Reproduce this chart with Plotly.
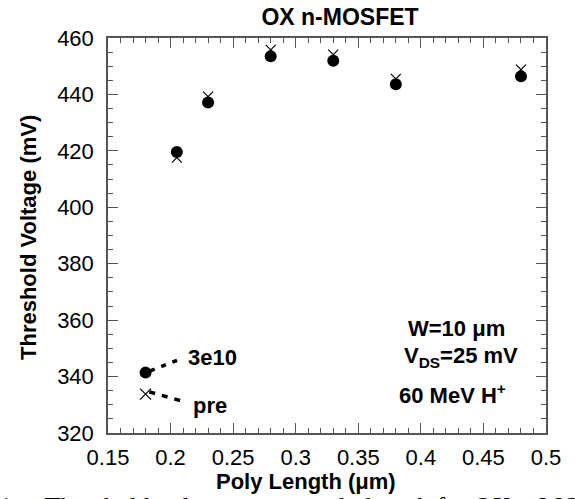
import plotly.graph_objects as go

# ---- data ----
poly_length = [0.205, 0.23, 0.28, 0.33, 0.38, 0.48]
vt_3e10 = [419.6, 437.1, 453.5, 451.9, 443.6, 446.4]
vt_pre = [417.6, 439.2, 455.8, 454.1, 445.5, 448.8]

legend_x = [0.18]
legend_3e10_y = [341.4]
legend_pre_y = [333.8]

x_tick_vals = [0.15, 0.2, 0.25, 0.3, 0.35, 0.4, 0.45, 0.5]
x_tick_text = ["0.15", "0.2", "0.25", "0.3", "0.35", "0.4", "0.45", "0.5"]
y_tick_vals = [320, 340, 360, 380, 400, 420, 440, 460]
y_tick_text = ["320", "340", "360", "380", "400", "420", "440", "460"]

FONT = "Liberation Sans, Arial, Helvetica, sans-serif"
W, H = 575, 499
L, R, T, B = 108, 29, 38, 66
PW, PH = W - L - R, H - T - B


def px(xp):
    return (xp - L) / PW


def py(yp):
    return (H - B - yp) / PH


fig = go.Figure()

fig.add_trace(go.Scatter(
    x=poly_length, y=vt_pre, mode="markers",
    marker=dict(symbol="x-thin-open", size=10, color="black",
                line=dict(color="black", width=1.2)),
    showlegend=False))
fig.add_trace(go.Scatter(
    x=poly_length, y=vt_3e10, mode="markers",
    marker=dict(symbol="circle", size=12, color="black"),
    showlegend=False))

fig.add_trace(go.Scatter(
    x=legend_x, y=legend_pre_y, mode="markers",
    marker=dict(symbol="x-thin-open", size=11, color="black",
                line=dict(color="black", width=1.2)),
    showlegend=False))
fig.add_trace(go.Scatter(
    x=legend_x, y=legend_3e10_y, mode="markers",
    marker=dict(symbol="circle", size=12, color="black"),
    showlegend=False))

# legend leader lines
fig.add_shape(type="line", xref="x", yref="y", x0=0.1836, y0=342.0, x1=0.2076, y1=346.2,
              line=dict(color="black", width=3.5, dash="5px,7px"))
fig.add_shape(type="line", xref="x", yref="y", x0=0.1830, y0=334.6, x1=0.2116, y1=331.0,
              line=dict(color="black", width=3.5, dash="6px,7px"))

bold = dict(family=FONT, size=22, color="black", weight="bold")

annotations = [
    dict(text="3e10", x=0.2123, y=346.9, xref="x", yref="y", xanchor="left",
         yanchor="middle", showarrow=False, font=bold),
    dict(text="pre", x=0.2165, y=329.6, xref="x", yref="y", xanchor="left",
         yanchor="middle", showarrow=False, font=bold),
    dict(text="W=10 \u03bcm", x=px(456), y=py(328), xref="paper", yref="paper",
         xanchor="center", yanchor="middle", showarrow=False, font=bold),
    dict(text="V<sub>DS</sub>=25 mV", x=px(461), y=py(357), xref="paper", yref="paper",
         xanchor="center", yanchor="middle", showarrow=False, font=bold),
    dict(text="60 MeV H<sup>+</sup>", x=px(452), y=py(394), xref="paper", yref="paper",
         xanchor="center", yanchor="middle", showarrow=False, font=bold),
    dict(text="Poly Length (\u03bcm)", x=px(306), y=py(481), xref="paper", yref="paper",
         xanchor="center", yanchor="middle", showarrow=False, font=bold),
    dict(text="Threshold Voltage (mV)", x=px(28), y=py(238), xref="paper", yref="paper",
         xanchor="center", yanchor="middle", textangle=-90, showarrow=False, font=bold),
    dict(text="1.&nbsp;&nbsp;&nbsp;&nbsp;Threshold voltage versus poly length for OX n-MOSFETs",
         x=px(-3), y=py(490), xref="paper", yref="paper", xanchor="left", yanchor="top",
         showarrow=False,
         font=dict(family="Liberation Serif, Times New Roman, serif", size=26, color="black")),
]

axis_common = dict(
    showgrid=False, zeroline=False, showline=True, linecolor="#555555", linewidth=1.5,
    mirror="ticks", ticks="inside", ticklen=10, tickwidth=1.2, tickcolor="#555555",
    tickfont=dict(family=FONT, size=22, color="black"),
)

fig.update_layout(
    width=W, height=H,
    margin=dict(l=L, r=R, t=T, b=B, pad=0),
    paper_bgcolor="white", plot_bgcolor="white",
    title=dict(text="OX n-MOSFET", x=340 / W, y=1 - 17 / H, xref="container",
               yref="container", xanchor="center", yanchor="middle",
               font=dict(family=FONT, size=23, color="black", weight="bold")),
    xaxis=dict(range=[0.15, 0.5], tickmode="array", tickvals=x_tick_vals, ticktext=x_tick_text,
               minor=dict(dtick=0.01, tick0=0.15, ticks="inside", ticklen=5, tickcolor="#555555",
                          tickwidth=1.2),
               ticklabelstandoff=4, **axis_common),
    yaxis=dict(range=[320, 460], tickmode="array", tickvals=y_tick_vals, ticktext=y_tick_text,
               minor=dict(dtick=5, tick0=320, ticks="inside", ticklen=5, tickcolor="#555555",
                          tickwidth=1.2),
               ticklabelstandoff=8, **axis_common),
    annotations=annotations,
    showlegend=False,
)

fig.write_html("out.html")
